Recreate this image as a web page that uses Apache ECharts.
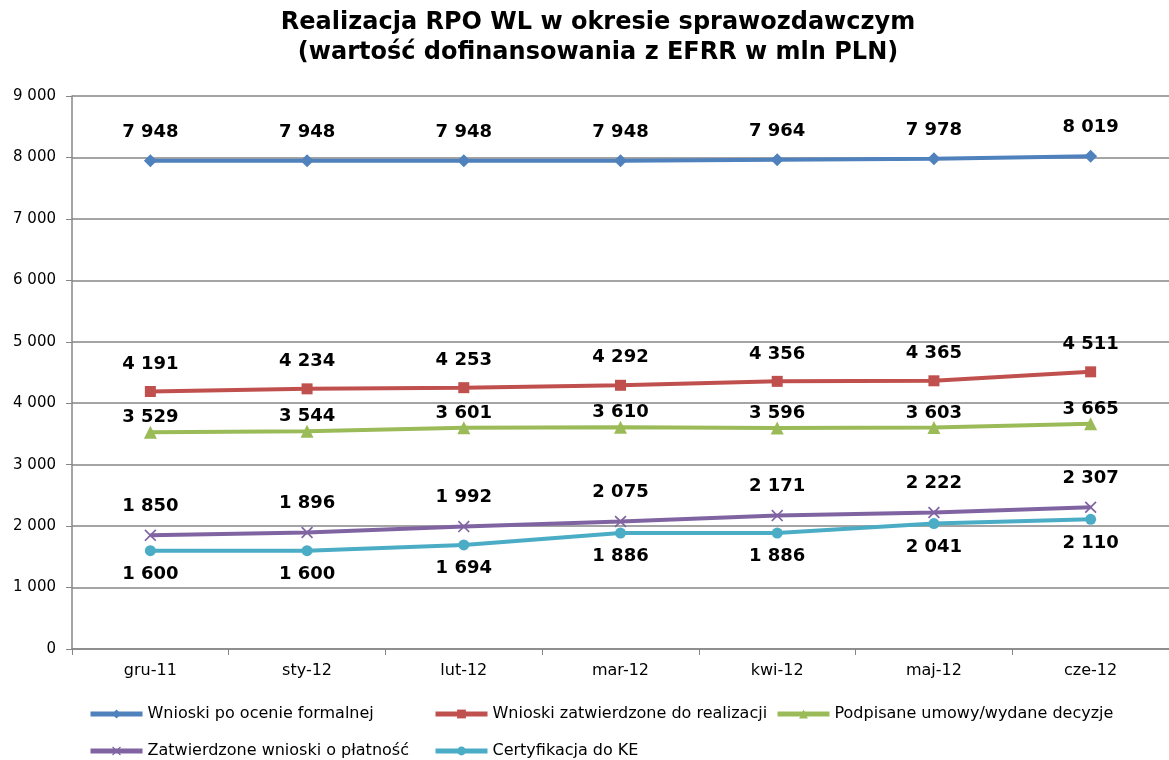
<!DOCTYPE html>
<html>
<head>
<meta charset="utf-8">
<script src="https://cdn.jsdelivr.net/npm/echarts@6/dist/echarts.min.js"></script>
<style>
  html, body { margin: 0; padding: 0; background: #fff; }
  #chart { width: 1169px; height: 760px; }
</style>
</head>
<body>
<div id="chart"></div>
<script>
// miesiące okresu sprawozdawczego
const months = ['gru-11', 'sty-12', 'lut-12', 'mar-12', 'kwi-12', 'maj-12', 'cze-12']

// wartości serii (mln PLN)
const wnioskiOcena = [7948, 7948, 7948, 7948, 7964, 7978, 8019]
const wnioskiZatw = [4191, 4234, 4253, 4292, 4356, 4365, 4511]
const umowy = [3529, 3544, 3601, 3610, 3596, 3603, 3665]
const platnosci = [1850, 1896, 1992, 2075, 2171, 2222, 2307]
const certyfikacja = [1600, 1600, 1694, 1886, 1886, 2041, 2110]

const seriesNames = [
  'Wnioski po ocenie formalnej',
  'Wnioski zatwierdzone do realizacji',
  'Podpisane umowy/wydane decyzje',
  'Zatwierdzone wnioski o płatność',
  'Certyfikacja do KE'
]

const FONT = 'DejaVu Sans'
const xMark = 'path://M0,1 L1,0 L5,4 L9,0 L10,1 L6,5 L10,9 L9,10 L5,6 L1,10 L0,9 L4,5 Z'

// format liczb ze spacją jako separatorem tysięcy
const fmt = (v) => String(v).replace(/\B(?=(\d{3})+(?!\d))/g, ' ')

const makeSeries = (name, data, color, symbol, size, pos, dist) => ({
  name: name,
  type: 'line',
  data: data,
  symbol: symbol,
  symbolSize: size,
  showAllSymbol: true,
  lineStyle: { color: color, width: 4 },
  itemStyle: { color: color },
  label: {
    show: true,
    position: pos,
    distance: dist,
    formatter: (p) => fmt(p.value),
    fontFamily: FONT,
    fontWeight: 'bold',
    fontSize: 18,
    color: '#000'
  },
  emphasis: { disabled: true },
  animation: false
})

const legendPos = [
  { left: 88, top: 706 },
  { left: 433, top: 706 },
  { left: 775, top: 706 },
  { left: 88, top: 743 },
  { left: 433, top: 743 }
]

const chart = echarts.init(document.getElementById('chart'))

chart.setOption({
  animation: false,
  title: {
    text: 'Realizacja RPO WL w okresie sprawozdawczym\n(wartość dofinansowania z EFRR w mln PLN)',
    left: 593,
    textAlign: 'center',
    top: 3,
    textStyle: {
      fontFamily: FONT,
      fontWeight: 'bold',
      fontSize: 24,
      lineHeight: 30,
      color: '#000'
    }
  },
  legend: legendPos.map((p, i) => ({
    data: [seriesNames[i]],
    left: p.left,
    top: p.top,
    padding: 0,
    itemWidth: 52,
    itemHeight: 11,
    itemGap: 0,
    lineStyle: { width: 5 },
    textStyle: { fontFamily: FONT, fontSize: 16, color: '#000' },
    selectedMode: false
  })),
  grid: {
    left: 72,
    right: -4,
    top: 96,
    bottom: 111,
    containLabel: false
  },
  xAxis: {
    type: 'category',
    data: months,
    boundaryGap: true,
    axisLine: { lineStyle: { color: '#868686', width: 1.5 } },
    axisTick: { show: true, length: 6, lineStyle: { color: '#868686' } },
    axisLabel: { fontFamily: FONT, fontSize: 16, color: '#000', margin: 14 }
  },
  yAxis: {
    type: 'value',
    min: 0,
    max: 9000,
    interval: 1000,
    axisLine: { show: true, lineStyle: { color: '#868686', width: 1.5 } },
    axisTick: { show: true, length: 6, lineStyle: { color: '#868686' } },
    splitLine: { lineStyle: { color: '#868686', width: 1.5 } },
    axisLabel: {
      fontFamily: FONT,
      fontSize: 15,
      color: '#000',
      margin: 16,
      formatter: (v) => fmt(v)
    }
  },
  series: [
    makeSeries(seriesNames[0], wnioskiOcena, '#4F81BD', 'diamond', 13, 'top', 13),
    makeSeries(seriesNames[1], wnioskiZatw, '#C0504D', 'rect', 11, 'top', 13),
    makeSeries(seriesNames[2], umowy, '#9BBB59', 'triangle', 13, 'top', -1),
    makeSeries(seriesNames[3], platnosci, '#8064A2', xMark, 12, 'top', 14),
    makeSeries(seriesNames[4], certyfikacja, '#4BACC6', 'circle', 11, 'bottom', 9)
  ]
})
</script>
</body>
</html>
